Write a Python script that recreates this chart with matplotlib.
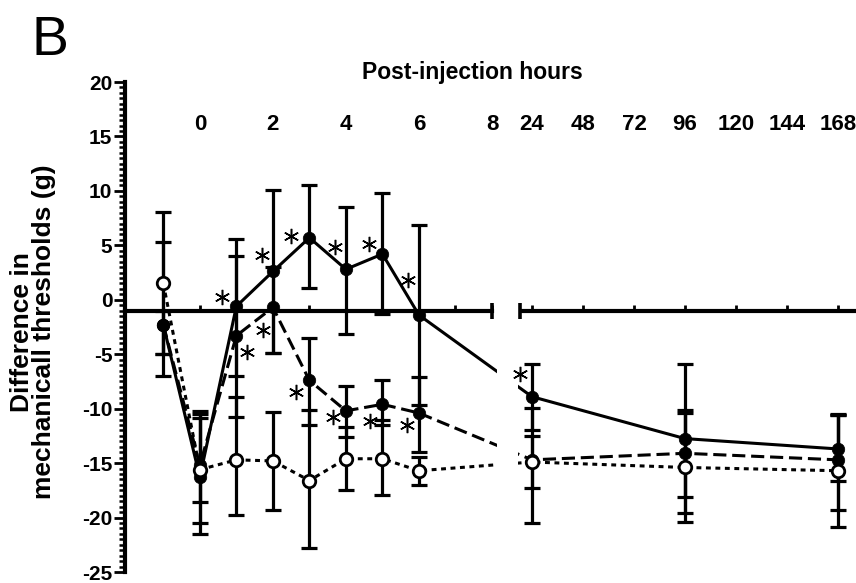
import numpy as np
import matplotlib
matplotlib.use("Agg")
import matplotlib.pyplot as plt
from matplotlib.ticker import MultipleLocator
from matplotlib.transforms import offset_copy

plt.rcParams['font.family'] = ['Liberation Sans', 'DejaVu Sans']
plt.rcParams['font.weight'] = 'bold'
plt.rcParams['axes.unicode_minus'] = False

# ---------------- data ----------------
hours = [-1, 0, 1, 2, 3, 4, 5, 6, 24, 96, 168]

solid_mean = [-2.3, -16.3, -0.6, 2.6, 5.7, 2.8, 4.2, -1.4, -8.9, -12.75, -13.7]
solid_lo = [-7.0, -21.5, -7.0, -4.9, 1.1, -3.1, -1.3, -9.7, -12.0, -19.6, -16.6]
solid_hi = [5.3, -10.9, 5.6, 10.1, 10.5, 8.5, 9.8, 6.9, -5.9, -5.9, -10.6]

dashed_mean = [-2.3, -15.2, -3.3, -0.7, -7.4, -10.2, -9.6, -10.4, -14.7, -14.1, -14.7]
dashed_lo = [-5.0, -18.6, -10.8, -4.9, -11.5, -12.6, -11.5, -14.0, -20.5, -18.1, -19.3]
dashed_hi = [-1.0, -10.2, 4.0, 3.0, -3.5, -7.9, -7.4, -7.1, -9.9, -10.1, -10.6]

open_mean = [1.5, -15.6, -14.7, -14.8, -16.6, -14.6, -14.6, -15.7, -14.9, -15.4, -15.7]
open_lo = [-5.0, -20.5, -19.8, -19.3, -22.8, -17.5, -17.9, -17.0, -17.3, -20.4, -20.9]
open_hi = [8.1, -10.5, -8.9, -10.3, -10.1, -11.7, -11.0, -14.4, -12.5, -10.4, -10.5]

solid_sig_hours = [1, 2, 3, 4, 5, 6, 24]
dashed_sig_hours = [1, 2, 3, 4, 5, 6]

major_tick_hours = [0, 2, 4, 6, 8, 24, 48, 72, 96, 120, 144, 168]
major_tick_labels = ['0', '2', '4', '6', '8', '24', '48', '72', '96', '120', '144', '168']
minor_tick_hours = [1, 3, 5, 7]
y_ticks = [-25, -20, -15, -10, -5, 0, 5, 10, 15, 20]

# ---------------- broken x scale ----------------
L_END = 8.0        # last hour of the left block
R_START = 18.35    # first hour of the right block
R_REF = 24.0
U_R_REF = 9.096    # position of 24 h in "left-hour" units
K = 0.05822        # right-block units per hour
U_R_START = U_R_REF + (R_START - R_REF) * K


def fwd(h):
    h = np.asarray(h, float)
    return np.where(h <= L_END, h,
                    np.where(h >= R_START, U_R_REF + (h - R_REF) * K,
                             L_END + (h - L_END) * (U_R_START - L_END) / (R_START - L_END)))


def inv(u):
    u = np.asarray(u, float)
    return np.where(u <= L_END, u,
                    np.where(u >= U_R_START, R_REF + (u - U_R_REF) / K,
                             L_END + (u - L_END) * (R_START - L_END) / (U_R_START - L_END)))


fig = plt.figure(figsize=(8.56, 5.83), dpi=100)
ax = fig.add_axes([125 / 856, 11 / 583, 731 / 856, 490 / 583])
ax.set_xscale('function', functions=(fwd, inv))
xmin, xmax = float(inv(-2.05)), float(inv(17.97))
ax.set_xlim(xmin, xmax)
ax.set_ylim(-25, 20)

LW = 2.2


def draw_series(mean, lo, hi, ls, filled, z):
    mean = np.asarray(mean); lo = np.asarray(lo); hi = np.asarray(hi)
    ax.errorbar(hours, mean, yerr=[mean - lo, hi - mean], fmt='none', ecolor='k',
                elinewidth=2.3, capsize=5.5, capthick=2.3, zorder=z)
    if filled:
        ax.plot(hours, mean, color='k', lw=LW, linestyle=ls, marker='o', ms=9,
                mfc='k', mec='k', mew=0.5, zorder=z + 0.05)
    else:
        ax.plot(hours, mean, color='k', lw=LW, linestyle=ls, marker='o', ms=9,
                mfc='white', mec='k', mew=2.0, zorder=z + 0.05)


draw_series(dashed_mean, dashed_lo, dashed_hi, (0, (4.3, 1.9)), True, 2.0)
draw_series(solid_mean, solid_lo, solid_hi, '-', True, 2.1)
draw_series(open_mean, open_lo, open_hi, (0, (1.6, 1.5)), False, 2.2)

# gap of the broken axis hides the connecting lines (below the tick-label band)
ax.axvspan(float(inv(8.15)), float(inv(8.70)), ymin=0.0, ymax=0.8,
           color='white', lw=0, zorder=2.4)

# significance asterisks
star = dict(marker=(6, 2, 0), ms=11, mew=1.1, color='k', ls='none', zorder=3)
solid_offsets = [(-10, 6.5), (-8, 11.5), (-13, 1.5), (-8, 16), (-9.4, 7.2), (-8, 25), (-8.6, 16)]
dashed_offsets = [(8, -12), (-7, -16.5), (-10, -8.6), (-9.4, -4.3), (-8.6, -12), (-8.6, -8.6)]
smap = dict(zip(hours, solid_mean))
dmap = dict(zip(hours, dashed_mean))
for h, (dx, dy) in zip(solid_sig_hours, solid_offsets):
    ax.plot([h], [smap[h]], transform=offset_copy(ax.transData, fig=fig, x=dx, y=dy, units='points'), **star)
for h, (dx, dy) in zip(dashed_sig_hours, dashed_offsets):
    ax.plot([h], [dmap[h]], transform=offset_copy(ax.transData, fig=fig, x=dx, y=dy, units='points'), **star)

# ---------------- axes styling ----------------
SPW = 3.0
ax.spines['right'].set_visible(False)
ax.spines['top'].set_visible(False)
ax.spines['top'].set_position(('axes', 0.886))
ax.spines['left'].set_linewidth(SPW)
ax.spines['bottom'].set_linewidth(SPW)
ax.spines['bottom'].set_position(('data', -1))
ax.spines['bottom'].set_bounds(xmin, L_END)
ax.hlines(-1, R_START, xmax, colors='k', lw=SPW, zorder=2.5, clip_on=False)
ax.plot([L_END, R_START], [-1, -1], ls='none', marker='|', ms=11, mew=2.6, color='k',
        zorder=2.6, clip_on=False)

ax.set_xticks(major_tick_hours, labels=major_tick_labels)
ax.set_xticks(minor_tick_hours, minor=True)
ax.tick_params(axis='x', which='both', direction='in', length=4.5, width=2.0,
               bottom=True, top=False, labelbottom=False, labeltop=True, pad=2,
               labelsize=16)

ax.set_yticks(y_ticks)
ax.yaxis.set_minor_locator(MultipleLocator(0.5))
ax.tick_params(axis='y', which='major', direction='out', length=8, width=2.0, labelsize=15, pad=1)
ax.tick_params(axis='y', which='minor', direction='out', length=4.5, width=1.8)

fig.text(472 / 856, 1 - 73 / 583, 'Post-injection hours', ha='center', va='center',
         fontsize=16.5, fontweight='bold')
fig.text(33 / 856, 1 - 332 / 583, 'Difference in\nmechanicall thresholds (g)', rotation=90,
         ha='center', va='center', multialignment='center', fontsize=19,
         fontweight='bold', linespacing=0.85)
fig.text(32 / 856, 1 - 55 / 583, 'B', fontsize=40, fontweight='normal', va='baseline', ha='left')

fig.savefig('out.png', dpi=100)
